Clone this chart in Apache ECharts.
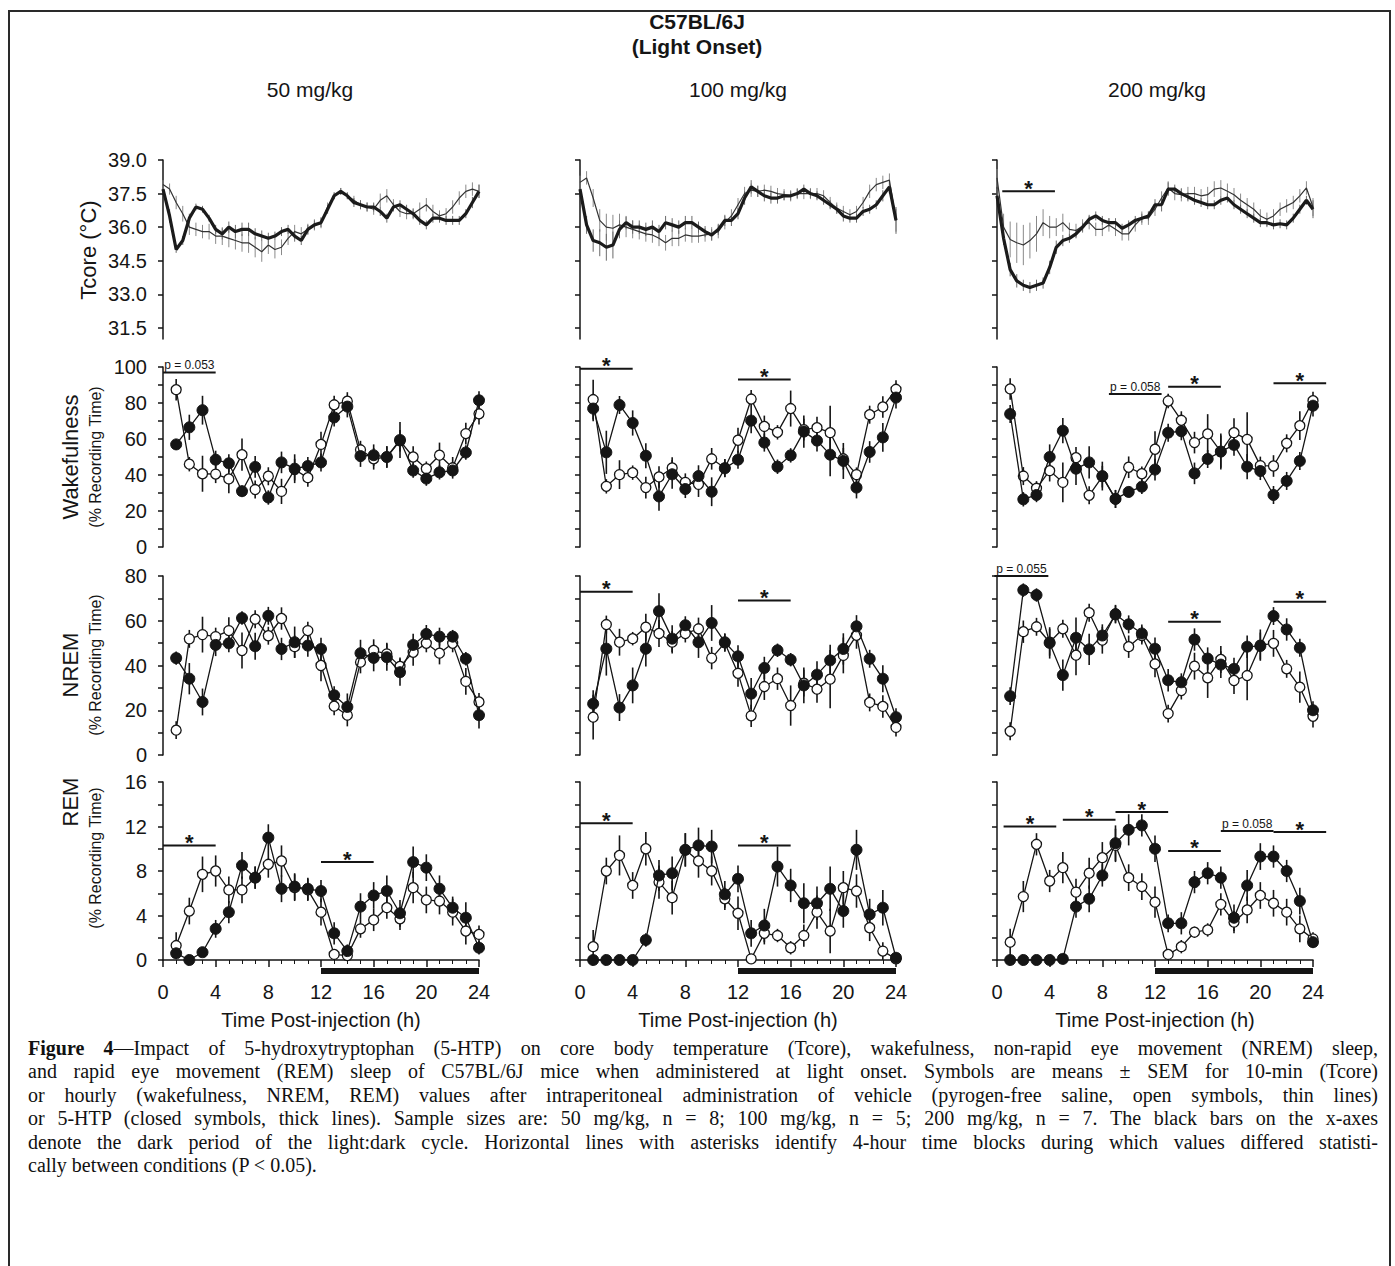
<!DOCTYPE html>
<html><head><meta charset="utf-8">
<script src="https://cdn.jsdelivr.net/npm/echarts@6/dist/echarts.min.js"></script>
<style>
html,body{margin:0;padding:0;background:#fff;overflow:hidden;}
#frame{position:absolute;left:8px;top:10px;width:1383px;height:1300px;border:2px solid #2a2a2a;box-sizing:border-box;}
#chart{position:absolute;left:0;top:0;width:1395px;height:1266px;}
#caption{position:absolute;left:28px;top:1037px;width:1350px;font-family:"Liberation Serif","Times New Roman",serif;font-size:20px;line-height:23.4px;color:#111;}
#caption div{text-align:justify;text-align-last:justify;}
#caption div.last{text-align-last:left;}
</style></head><body>
<div id="frame"></div>
<div id="chart"></div>
<div id="caption">
<div><b>Figure 4</b>—Impact of 5-hydroxytryptophan (5-HTP) on core body temperature (Tcore), wakefulness, non-rapid eye movement (NREM) sleep,</div>
<div>and rapid eye movement (REM) sleep of C57BL/6J mice when administered at light onset. Symbols are means ± SEM for 10-min (Tcore)</div>
<div>or hourly (wakefulness, NREM, REM) values after intraperitoneal administration of vehicle (pyrogen-free saline, open symbols, thin lines)</div>
<div>or 5-HTP (closed symbols, thick lines). Sample sizes are: 50 mg/kg, n = 8; 100 mg/kg, n = 5; 200 mg/kg, n = 7. The black bars on the x-axes</div>
<div>denote the dark period of the light:dark cycle. Horizontal lines with asterisks identify 4-hour time blocks during which values differed statisti-</div>
<div class="last">cally between conditions (P &lt; 0.05).</div>
</div>
<script>
// ---------------- DATA ----------------
const doses = ['50 mg/kg', '100 mg/kg', '200 mg/kg'];
const hours = [1,2,3,4,5,6,7,8,9,10,11,12,13,14,15,16,17,18,19,20,21,22,23,24];
const tT = [0,0.5,1,1.5,2,2.5,3,3.5,4,4.5,5,5.5,6,6.5,7,7.5,8,8.5,9,9.5,10,10.5,11,11.5,12,12.5,13,13.5,14,14.5,15,15.5,16,16.5,17,17.5,18,18.5,19,19.5,20,20.5,21,21.5,22,22.5,23,23.5,24];
const tcoreTicks = [31.5,33.0,34.5,36.0,37.5,39.0];
const darkPeriod = [12, 24];

// Tcore (°C), 5-HTP (thick) and vehicle (thin)
const tcore50_htp  = [37.7,36.5,35.0,35.4,36.4,36.9,36.8,36.4,35.9,35.7,36.0,35.8,35.9,35.9,35.7,35.6,35.5,35.6,35.8,35.9,35.6,35.4,35.9,36.1,36.2,36.8,37.4,37.6,37.4,37.1,37.0,36.9,36.9,36.7,36.4,36.9,37.0,36.8,36.6,36.3,36.1,36.4,36.4,36.3,36.3,36.3,36.6,37.1,37.6];
const tcore50_veh  = [37.9,37.7,37.1,36.6,36.0,35.9,35.8,35.8,35.6,35.6,35.5,35.4,35.3,35.3,35.1,34.9,35.2,35.0,35.1,35.5,35.8,35.7,35.9,36.1,36.2,36.9,37.4,37.6,37.4,37.2,37.0,36.9,36.8,37.2,37.4,37.0,36.7,36.6,36.6,36.8,37.0,36.7,36.5,36.6,36.9,37.3,37.6,37.7,37.6];
const tcore100_htp = [37.7,36.1,35.4,35.3,35.1,35.2,35.9,36.2,36.0,36.0,35.9,36.0,35.8,36.2,36.1,36.0,36.2,36.2,36.0,35.8,35.65,35.9,36.3,36.3,36.6,37.3,37.8,37.6,37.4,37.3,37.3,37.4,37.4,37.5,37.7,37.5,37.4,37.2,37.0,36.8,36.5,36.4,36.4,36.7,36.8,37.0,37.4,37.8,36.3];
const tcore100_veh = [38.0,38.2,37.3,36.3,36.0,35.95,36.1,36.0,35.9,35.8,35.7,35.65,35.5,35.3,35.5,35.5,35.65,35.6,35.6,35.65,35.7,35.8,36.2,36.5,37.0,37.5,37.65,37.6,37.65,37.6,37.5,37.45,37.4,37.5,37.5,37.5,37.5,37.4,37.1,36.85,36.7,36.55,36.7,37.1,37.6,37.9,38.0,38.1,36.3];
const tcore200_htp = [37.4,35.5,34.1,33.6,33.4,33.3,33.4,33.5,34.2,35.1,35.4,35.5,35.7,36.0,36.35,36.5,36.3,36.2,36.2,35.95,36.1,36.3,36.4,36.5,37.0,37.0,37.7,37.7,37.5,37.35,37.2,37.1,37.0,37.0,37.2,37.3,37.0,36.8,36.6,36.4,36.2,36.2,36.1,36.15,36.1,36.4,36.8,37.2,36.8];
const tcore200_veh = [38.2,36.0,35.45,35.3,35.2,35.4,35.7,36.2,36.0,36.0,36.2,35.9,35.85,36.05,36.2,35.9,35.9,36.1,35.9,35.7,35.7,36.1,36.4,36.4,36.8,37.3,37.75,37.5,37.45,37.5,37.5,37.4,37.45,37.7,37.75,37.6,37.45,37.2,37.0,36.8,36.5,36.35,36.5,36.8,36.95,37.1,37.4,37.75,36.9];
const tcore50_htp_sem  = [0.2,0.3,0.15,0.2,0.2,0.15,0.15,0.15,0.2,0.25,0.25,0.3,0.3,0.3,0.25,0.25,0.25,0.2,0.2,0.2,0.25,0.2,0.2,0.2,0.2,0.2,0.15,0.15,0.15,0.2,0.2,0.2,0.2,0.2,0.2,0.2,0.2,0.2,0.2,0.2,0.2,0.2,0.2,0.2,0.2,0.2,0.2,0.25,0.3];
const tcore50_veh_sem  = [0.2,0.25,0.3,0.35,0.35,0.3,0.3,0.35,0.35,0.4,0.4,0.4,0.4,0.45,0.45,0.45,0.4,0.4,0.35,0.3,0.3,0.3,0.25,0.25,0.25,0.2,0.15,0.15,0.15,0.2,0.2,0.2,0.25,0.3,0.3,0.25,0.25,0.25,0.25,0.3,0.3,0.3,0.25,0.25,0.3,0.3,0.3,0.3,0.3];
const tcore100_htp_sem = [0.3,0.4,0.5,0.6,0.6,0.6,0.4,0.3,0.3,0.3,0.3,0.3,0.3,0.3,0.3,0.3,0.3,0.3,0.25,0.25,0.25,0.25,0.25,0.25,0.25,0.3,0.3,0.25,0.25,0.25,0.25,0.2,0.2,0.2,0.2,0.2,0.2,0.2,0.2,0.2,0.25,0.2,0.2,0.2,0.2,0.2,0.25,0.3,0.6];
const tcore100_veh_sem = [0.3,0.3,0.4,0.5,0.6,0.6,0.5,0.45,0.4,0.35,0.35,0.35,0.35,0.35,0.35,0.35,0.3,0.3,0.3,0.3,0.3,0.3,0.3,0.3,0.3,0.3,0.3,0.25,0.25,0.25,0.25,0.25,0.25,0.25,0.25,0.25,0.25,0.25,0.25,0.25,0.25,0.25,0.25,0.25,0.3,0.3,0.3,0.3,0.5];
const tcore200_htp_sem = [0.3,0.3,0.3,0.3,0.25,0.25,0.25,0.25,0.3,0.3,0.25,0.2,0.2,0.2,0.2,0.2,0.2,0.2,0.2,0.2,0.2,0.2,0.2,0.2,0.25,0.3,0.3,0.2,0.2,0.2,0.2,0.2,0.2,0.2,0.2,0.2,0.2,0.2,0.2,0.2,0.2,0.2,0.2,0.2,0.2,0.2,0.2,0.2,0.4];
const tcore200_veh_sem = [0.4,0.6,0.8,0.9,0.9,0.8,0.8,0.6,0.5,0.4,0.4,0.3,0.3,0.3,0.3,0.3,0.3,0.3,0.3,0.3,0.3,0.3,0.3,0.3,0.3,0.3,0.3,0.3,0.3,0.3,0.3,0.3,0.35,0.35,0.35,0.35,0.3,0.3,0.3,0.3,0.3,0.3,0.3,0.3,0.3,0.3,0.3,0.3,0.4];

// Wakefulness (% recording time)
const wake50_veh  = [87.4,46,40.7,40.5,37.8,51.3,31.9,39.3,30.9,43,38.5,57,79,81,54,49,50,59,50,43.5,51,44,63,74];
const wake50_htp  = [57,66.5,76,48.5,46.5,31,44.5,27.5,47,43.5,45,47,72,78,50.5,51,50,59.5,42.5,38,41.5,42.5,52.5,81.5];
const wake100_veh = [81.9,33.7,40.2,41.3,33,38.9,43.9,35.9,34.8,49,43.9,59.3,82.2,67,63.7,76.9,65.2,66.3,63.5,49,40.2,73.5,77.8,87.6];
const wake100_htp = [76.9,52.6,78.9,68.9,50.7,28.1,40.4,32.2,39.4,30.7,43.7,48.5,70.2,58,44.6,50.9,64.1,59.1,51.3,47.8,33,52.8,60.9,83];
const wake200_veh = [87.8,39.4,32.6,42.4,35.9,49.6,28.7,39.1,26.7,44.3,40.7,54.3,81.1,70.4,58,62.8,53,63.5,59.8,45.2,45,57.6,67.4,81.3];
const wake200_htp = [73.9,26.5,28.9,50,64.6,43.5,47,39.4,26.7,30.6,33.5,43,63.5,64.3,40.9,48.9,53,56.7,44.6,42.2,28.9,36.7,47.8,78.5];
const wake50_veh_sem  = [6,4,10,5,8,9,5,5,7,6,5,7,5,5,5,6,6,6,6,4,7,6,6,6];
const wake50_htp_sem  = [3,7,8,5,5,3,6,4,6,8,5,5,5,6,6,6,6,10,4,4,4,3,4,5];
const wake100_veh_sem = [11,4,8,4,6,6,6,5,7,6,5,7,5,6,4,10,6,6,15,6,4,5,6,5];
const wake100_htp_sem = [7,12,5,7,7,8,8,5,6,8,5,5,7,5,4,4,9,6,12,10,6,6,8,6];
const wake200_veh_sem = [6,5,4,6,11,6,5,6,5,6,4,10,4,5,6,11,9,8,15,5,6,5,8,5];
const wake200_htp_sem = [5,4,4,7,7,9,9,8,5,3,4,6,5,5,6,5,10,6,7,5,5,5,5,6];

// NREM (% recording time)
const nrem50_veh  = [11.1,51.9,53.8,52.9,55.6,46.7,60.7,53.3,61,48.4,55.6,40,21.8,17.8,41.5,46.7,45.2,39.6,45.9,49.9,45.5,49.9,32.9,23.7];
const nrem50_htp  = [43.3,34.1,23.7,49.2,49.9,61.2,48.6,62.2,47.4,50.4,48.9,47.4,26.7,21.5,45.5,43.4,43.7,37,49.2,54.1,52.9,52.9,43,17.8];
const nrem100_veh = [16.9,58.3,50.4,52,57.1,54.3,50.4,54.3,56.4,43.3,50.1,36.5,17.5,30.6,34.1,22.1,32.1,29.4,33.9,44.5,53.5,23.5,21.7,12.3];
const nrem100_htp = [22.9,47.5,21.2,31.1,47.5,64.3,52,58,50.4,59,50.4,44.1,27.4,38.9,46.8,42.6,31.1,35.9,42.3,47.4,57.5,43,34.1,16.9];
const nrem200_veh = [10.6,55.1,57.3,50.4,56.4,44.6,63.6,51.3,63.1,48.4,53.4,40.7,18.5,28.8,39.7,34.5,42.7,33.3,35.5,49.1,49.9,38.5,30.3,17.3];
const nrem200_htp = [26.3,73.7,71.5,50.1,35.7,52.4,47.2,53.4,62.8,58.4,54.3,47.5,33.4,32.5,51.6,43.1,40.4,38.5,48.4,48.7,62.1,56.1,47.9,20];
const nrem50_veh_sem  = [4,4,8,4,6,8,4,4,5,5,4,7,4,5,5,5,5,4,6,4,5,4,6,4];
const nrem50_htp_sem  = [3,7,6,5,4,3,6,4,5,7,5,5,4,6,6,6,6,6,5,4,4,3,3,6];
const nrem100_veh_sem = [10,4,6,3,6,6,5,4,5,5,4,6,5,6,5,9,6,6,13,8,6,4,5,4];
const nrem100_htp_sem = [6,12,6,8,8,8,6,4,7,8,4,5,7,5,3,3,8,6,7,7,5,4,6,4];
const nrem200_veh_sem = [4,5,4,6,4,9,4,6,4,5,4,6,4,4,6,9,6,6,11,7,6,4,7,5];
const nrem200_htp_sem = [4,3,3,7,7,9,7,5,4,4,4,5,5,4,5,5,6,5,5,6,4,5,4,4];

// REM (% recording time)
const rem50_veh  = [1.3,4.4,7.7,8.0,6.3,6.3,7.4,8.6,8.9,6.5,6.3,4.3,0.5,0.4,2.8,3.6,4.7,3.7,6.5,5.4,5.3,4.3,2.6,2.3];
const rem50_htp  = [0.6,0,0.7,2.8,4.3,8.5,7.4,11.0,6.4,6.6,6.4,6.2,2.4,0.8,4.8,5.8,6.2,4.2,8.8,8.3,6.4,4.7,3.8,1.1];
const rem100_veh = [1.2,8.0,9.4,6.7,10.0,7.0,5.6,9.9,8.9,8.0,5.5,4.2,0.1,2.4,2.2,1.1,2.2,4.3,2.6,6.5,6.2,2.9,0.8,0.1];
const rem100_htp = [0,0,0,0,1.8,7.6,7.8,9.9,10.3,10.2,5.9,7.3,2.4,3.1,8.4,6.7,5.1,5.1,6.4,4.4,9.9,4.1,4.7,0.2];
const rem200_veh = [1.6,5.7,10.4,7.1,8.3,6.1,7.8,9.2,10.3,7.4,6.6,5.2,0.5,1.2,2.5,2.7,5.0,3.4,4.5,5.8,5.1,4.3,2.8,1.9];
const rem200_htp = [0,0,0,0,0.1,4.8,5.5,7.6,10.5,11.7,12.1,10.0,3.3,3.3,7.0,7.8,7.4,3.8,6.7,9.3,9.3,8.0,5.3,1.6];
const rem50_veh_sem  = [1.2,1.2,1.6,1.4,1.2,1.2,1.0,1.2,1.4,1.2,1.0,1.2,0.4,0.4,0.8,1.0,1.0,1.0,1.4,1.2,1.2,1.2,1.2,0.8];
const rem50_htp_sem  = [0.4,0,0.4,0.8,1.0,1.2,1.0,1.2,1.2,1.2,1.0,1.0,1.0,0.6,1.2,1.2,1.4,1.2,1.4,1.2,1.2,1.0,1.4,0.6];
const rem100_veh_sem = [1.5,1.2,1.8,1.2,1.5,1.5,1.5,1.5,1.5,1.3,1.0,1.5,0.2,1.0,0.6,0.6,1.0,1.5,2.0,1.5,1.5,1.2,0.8,0.1];
const rem100_htp_sem = [0,0,0,0,0.6,1.4,1.5,1.5,1.6,1.5,1.2,1.2,1.2,1.5,1.8,1.5,1.8,1.5,2.0,1.5,1.8,1.4,1.6,0.2];
const rem200_veh_sem = [1.2,1.4,1.0,1.0,1.4,1.2,1.4,1.4,1.5,1.2,1.2,1.4,0.3,0.6,0.5,0.6,1.0,1.0,1.2,1.2,1.2,1.2,1.2,0.6];
const rem200_htp_sem = [0,0,0,0,0.1,1.0,1.2,1.0,1.6,1.4,1.0,1.2,0.8,1.0,1.0,1.0,1.0,1.2,1.4,1.2,1.0,1.0,1.2,0.5];

// Significance blocks: [start h, end h, level, label]
const sigTcore50 = [];
const sigTcore100 = [];
const sigTcore200 = [[0.4, 4.4, 37.6, '*']];
const sigWake50 = [[0, 4, 97, 'p = 0.053']];
const sigWake100 = [[0, 4, 99, '*'], [12, 16, 93, '*']];
const sigWake200 = [[8.5, 12.5, 85, 'p = 0.058'], [13, 17, 89, '*'], [21, 25, 91, '*']];
const sigNrem50 = [];
const sigNrem100 = [[0, 4, 73, '*'], [12, 16, 69, '*']];
const sigNrem200 = [[-0.2, 3.9, 80, 'p = 0.055'], [13, 17, 59.5, '*'], [21, 25, 68.5, '*']];
const sigRem50 = [[0, 4, 10.3, '*'], [12, 16, 8.8, '*']];
const sigRem100 = [[0, 4, 12.3, '*'], [12, 16, 10.3, '*']];
const sigRem200 = [[0.5, 4.5, 12.0, '*'], [5, 9, 12.6, '*'], [9, 13, 13.3, '*'], [13, 17, 9.8, '*'], [17, 21, 11.6, 'p = 0.058'], [21, 25, 11.5, '*']];

// ---------------- BUILD ----------------
const FONT = '"Liberation Sans", Arial, sans-serif';
const INK = '#151515';
const colLeft = [163, 580, 997];
const colW = 316;
const titleX = [310, 738, 1157];
const rows = [
  {top: 160, h: 179},
  {top: 367, h: 180},
  {top: 576, h: 179},
  {top: 782, h: 178}
];

const panels = [
  {kind: 'tcore', veh: [tcore50_veh, tcore100_veh, tcore200_veh], htp: [tcore50_htp, tcore100_htp, tcore200_htp],
   vs: [tcore50_veh_sem, tcore100_veh_sem, tcore200_veh_sem], hs: [tcore50_htp_sem, tcore100_htp_sem, tcore200_htp_sem],
   sig: [sigTcore50, sigTcore100, sigTcore200]},
  {kind: 'wake', veh: [wake50_veh, wake100_veh, wake200_veh], htp: [wake50_htp, wake100_htp, wake200_htp],
   vs: [wake50_veh_sem, wake100_veh_sem, wake200_veh_sem], hs: [wake50_htp_sem, wake100_htp_sem, wake200_htp_sem],
   sig: [sigWake50, sigWake100, sigWake200], min: 0, max: 100, interval: 20},
  {kind: 'nrem', veh: [nrem50_veh, nrem100_veh, nrem200_veh], htp: [nrem50_htp, nrem100_htp, nrem200_htp],
   vs: [nrem50_veh_sem, nrem100_veh_sem, nrem200_veh_sem], hs: [nrem50_htp_sem, nrem100_htp_sem, nrem200_htp_sem],
   sig: [sigNrem50, sigNrem100, sigNrem200], min: 0, max: 80, interval: 20},
  {kind: 'rem', veh: [rem50_veh, rem100_veh, rem200_veh], htp: [rem50_htp, rem100_htp, rem200_htp],
   vs: [rem50_veh_sem, rem100_veh_sem, rem200_veh_sem], hs: [rem50_htp_sem, rem100_htp_sem, rem200_htp_sem],
   sig: [sigRem50, sigRem100, sigRem200], min: 0, max: 16, interval: 4}
];

const grid = [], xAxis = [], yAxis = [], series = [];

function errRender(color, width) {
  return function (params, api) {
    const x = api.value(0), y = api.value(1), s = api.value(2);
    if (!s) return null;
    const a = api.coord([x, y - s]), b = api.coord([x, y + s]);
    return {type: 'line', shape: {x1: a[0], y1: a[1], x2: b[0], y2: b[1]}, style: {stroke: color, lineWidth: width}};
  };
}

function sigSeries(arr, gi) {
  return {
    type: 'custom', xAxisIndex: gi, yAxisIndex: gi, clip: false, z: 6, silent: true,
    data: arr.map(d => [d[0], d[2]]),
    renderItem: function (params, api) {
      const d = arr[params.dataIndex];
      const a = api.coord([d[0], d[2]]), b = api.coord([d[1], d[2]]);
      const star = d[3] === '*';
      return {type: 'group', children: [
        {type: 'line', shape: {x1: a[0], y1: a[1], x2: b[0], y2: b[1]}, style: {stroke: INK, lineWidth: 2}},
        {type: 'text', x: (a[0] + b[0]) / 2, y: star ? a[1] - 3 : a[1] - 1,
         style: {text: d[3], fill: INK, font: star ? 'bold 22px ' + FONT : '12px ' + FONT,
                 align: 'center', verticalAlign: star ? 'middle' : 'bottom'}}
      ]};
    }
  };
}

panels.forEach((P, r) => {
  for (let c = 0; c < 3; c++) {
    const gi = r * 3 + c;
    grid.push({left: colLeft[c], top: rows[r].top, width: colW, height: rows[r].h});
    xAxis.push({
      gridIndex: gi, type: 'value', min: 0, max: 24, interval: 4, show: r === 3, offset: 15,
      axisLine: {lineStyle: {color: INK, width: 1.5}},
      axisTick: {length: 7, lineStyle: {color: INK, width: 1.5}},
      minorTick: {show: true, splitNumber: 4, length: 4, lineStyle: {color: INK, width: 1}},
      axisLabel: {fontSize: 20, color: INK, fontFamily: FONT, margin: 7},
      splitLine: {show: false}
    });
    const ya = {
      gridIndex: gi, type: 'value', offset: 8,
      axisLine: {show: true, lineStyle: {color: INK, width: 1.5}},
      axisTick: {show: true, length: 5, lineStyle: {color: INK, width: 1.5}},
      axisLabel: {show: c === 0, fontSize: 20, color: INK, fontFamily: FONT, margin: 8},
      splitLine: {show: false}
    };
    if (P.kind === 'tcore') {
      ya.min = 31; ya.max = 39;
      ya.axisLabel.customValues = tcoreTicks;
      ya.axisLabel.formatter = v => v.toFixed(1);
      ya.axisTick.customValues = tcoreTicks;
    } else {
      ya.min = P.min; ya.max = P.max; ya.interval = P.interval;
      ya.minorTick = {show: true, splitNumber: 2, length: 5, lineStyle: {color: INK, width: 1.5}};
    }
    yAxis.push(ya);

    if (P.kind === 'tcore') {
      series.push({type: 'custom', xAxisIndex: gi, yAxisIndex: gi, z: 1, silent: true,
        data: tT.map((t, k) => [t, P.veh[c][k], P.vs[c][k]]), renderItem: errRender('#8a8a8a', 1)});
      series.push({type: 'custom', xAxisIndex: gi, yAxisIndex: gi, z: 1, silent: true,
        data: tT.map((t, k) => [t, P.htp[c][k], P.hs[c][k]]), renderItem: errRender('#6a6a6a', 1)});
      series.push({type: 'line', xAxisIndex: gi, yAxisIndex: gi, z: 2, silent: true, showSymbol: false, symbol: 'none',
        data: tT.map((t, k) => [t, P.veh[c][k]]), lineStyle: {color: '#333', width: 1.2}});
      series.push({type: 'line', xAxisIndex: gi, yAxisIndex: gi, z: 3, silent: true, showSymbol: false, symbol: 'none',
        data: tT.map((t, k) => [t, P.htp[c][k]]), lineStyle: {color: '#1b1b1b', width: 3.2}});
    } else {
      series.push({type: 'custom', xAxisIndex: gi, yAxisIndex: gi, z: 1, silent: true,
        data: hours.map((h, k) => [h, P.veh[c][k], P.vs[c][k]]), renderItem: errRender(INK, 1.6)});
      series.push({type: 'custom', xAxisIndex: gi, yAxisIndex: gi, z: 1, silent: true,
        data: hours.map((h, k) => [h, P.htp[c][k], P.hs[c][k]]), renderItem: errRender(INK, 1.6)});
      series.push({type: 'line', xAxisIndex: gi, yAxisIndex: gi, z: 2, silent: true,
        data: hours.map((h, k) => [h, P.veh[c][k]]), symbol: 'circle', symbolSize: 10, showAllSymbol: true,
        lineStyle: {color: INK, width: 1.3}, itemStyle: {color: '#fff', borderColor: INK, borderWidth: 1.3}});
      series.push({type: 'line', xAxisIndex: gi, yAxisIndex: gi, z: 3, silent: true,
        data: hours.map((h, k) => [h, P.htp[c][k]]), symbol: 'circle', symbolSize: 11, showAllSymbol: true,
        lineStyle: {color: INK, width: 1.3}, itemStyle: {color: INK, borderColor: INK, borderWidth: 1}});
    }
    if (P.sig[c].length) series.push(sigSeries(P.sig[c], gi));
    if (r === 3) {
      series.push({type: 'custom', xAxisIndex: gi, yAxisIndex: gi, clip: false, z: 4, silent: true,
        data: [[darkPeriod[0], darkPeriod[1]]],
        renderItem: function (params, api) {
          const a = api.coord([api.value(0), 0]), b = api.coord([api.value(1), 0]);
          return {type: 'rect', shape: {x: a[0], y: a[1] + 8, width: b[0] - a[0], height: 6}, style: {fill: INK}};
        }});
    }
  }
});

const graphic = [];
function txt(x, y, s, size, opts) {
  opts = opts || {};
  graphic.push({type: 'text', x: x, y: y, rotation: opts.rot || 0, silent: true,
    style: {text: s, fill: INK, font: (opts.bold ? 'bold ' : '') + size + 'px ' + FONT, align: 'center', verticalAlign: 'middle'}});
}
txt(697, 21, 'C57BL/6J', 21, {bold: true});
txt(697, 46, '(Light Onset)', 21, {bold: true});
doses.forEach((d, c) => txt(titleX[c], 89, d, 21));
doses.forEach((d, c) => txt(colLeft[c] + colW / 2, 1020, 'Time Post-injection (h)', 20));
txt(88, 250, 'Tcore (°C)', 22, {rot: Math.PI / 2});
txt(70, 457, 'Wakefulness', 22, {rot: Math.PI / 2});
txt(95, 457, '(% Recording Time)', 16, {rot: Math.PI / 2});
txt(70, 665, 'NREM', 22, {rot: Math.PI / 2});
txt(95, 665, '(% Recording Time)', 16, {rot: Math.PI / 2});
txt(70, 802, 'REM', 22, {rot: Math.PI / 2});
txt(95, 858, '(% Recording Time)', 16, {rot: Math.PI / 2});

const chart = echarts.init(document.getElementById('chart'), null, {renderer: 'svg', width: 1395, height: 1266});
chart.setOption({animation: false, backgroundColor: 'transparent', grid, xAxis, yAxis, series, graphic});
</script>
</body></html>
